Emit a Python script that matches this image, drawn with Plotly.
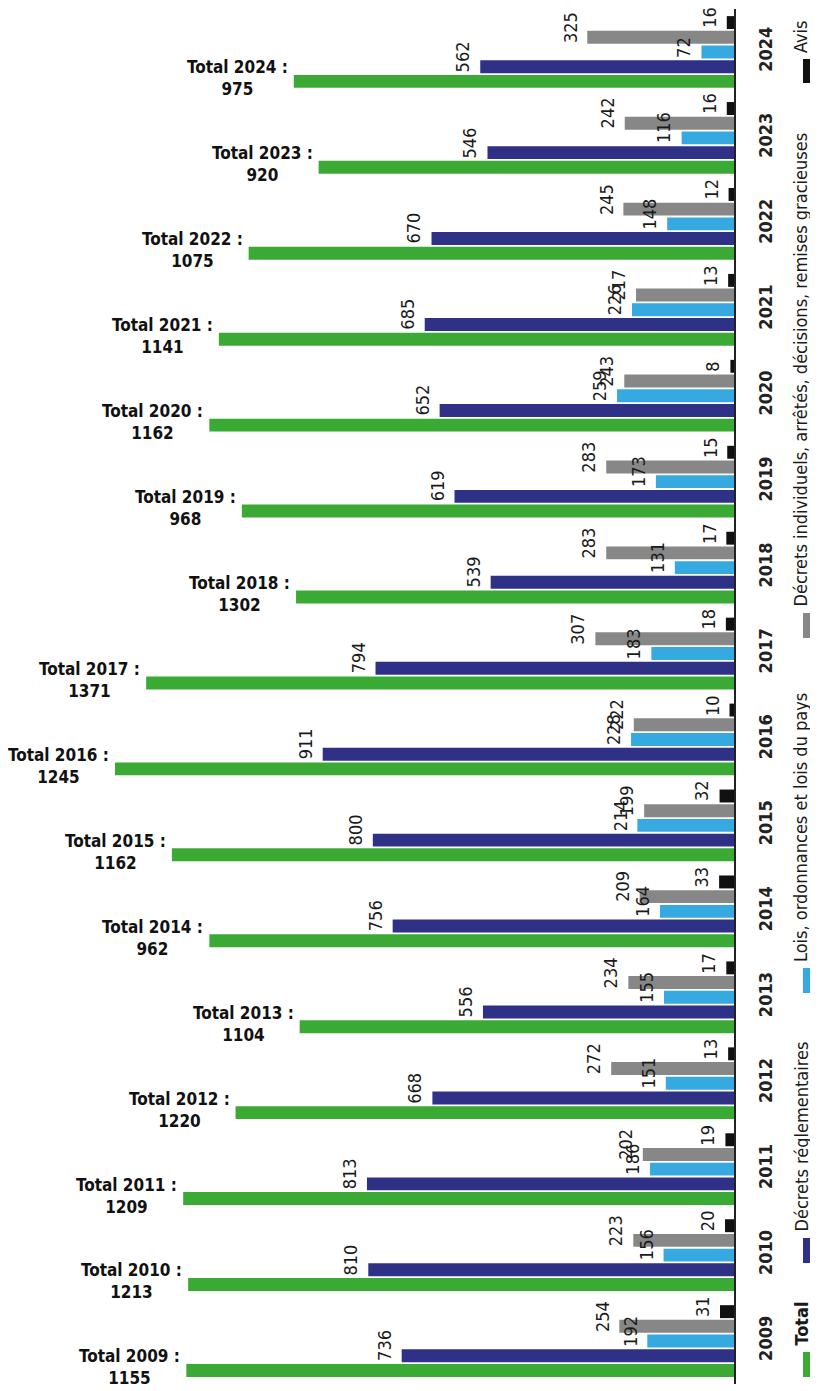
import plotly.graph_objects as go

years = [2009, 2010, 2011, 2012, 2013, 2014, 2015, 2016,
         2017, 2018, 2019, 2020, 2021, 2022, 2023, 2024]
decrets_regl = [736, 810, 813, 668, 556, 756, 800, 911, 794, 539, 619, 652, 685, 670, 546, 562]
lois = [192, 156, 186, 151, 155, 164, 214, 228, 183, 131, 173, 259, 226, 148, 116, 72]
decrets_indiv = [254, 223, 202, 272, 234, 209, 199, 222, 307, 283, 283, 243, 217, 245, 242, 325]
avis = [31, 20, 19, 13, 17, 33, 32, 10, 18, 17, 15, 8, 13, 12, 16, 16]
total_bars = [1213, 1209, 1220, 1104, 962, 1162, 1245, 1371, 1302, 970, 1090, 1162, 1141, 1075, 920, 975]
total_labels = [1155, 1213, 1209, 1220, 1104, 962, 1162, 1245, 1371, 1302, 968, 1162, 1141, 1075, 920, 975]

legend_names = ["Total", "Décrets réglementaires", "Lois, ordonnances et lois du pays",
                "Décrets individuels, arrêtés, décisions, remises gracieuses", "Avis"]

FONT = "DejaVu Sans Condensed, Liberation Sans Narrow, Arial Narrow, sans-serif"
GREEN, DBLUE, LBLUE, GRAY, BLACK = "#3aaa35", "#2e3185", "#36a9e1", "#878787", "#111111"

# the page body adds an 8px margin, so the figure is 8px smaller than the window
OFF = 8
W, H = 818 - OFF, 1391 - OFF
ML, MR, MT, MB = 0, 84, 1, 7
PW, PH = W - ML - MR, H - MT - MB
BARGAP, GROUPGAP = 0.145, 0.12
XMAX = 1608

series = [
    (legend_names[0], total_bars, GREEN),
    (legend_names[1], decrets_regl, DBLUE),
    (legend_names[2], lois, LBLUE),
    (legend_names[3], decrets_indiv, GRAY),
    (legend_names[4], avis, BLACK),
]

fig = go.Figure()
for name, vals, col in series:
    fig.add_trace(go.Bar(orientation="h", x=vals, y=years, name=name,
                         marker=dict(color=col, line=dict(width=0)),
                         showlegend=False))

n = len(series)
gw = 1 - BARGAP
slot = gw / n
ann = []
# rotated value labels for the four component series
for i, (name, vals, col) in enumerate(series):
    if i == 0:
        continue
    for yr, v in zip(years, vals):
        bottom = yr - gw / 2 + i * slot + slot * GROUPGAP / 2
        ann.append(dict(x=v, y=bottom, xref="x", yref="y", text=str(v),
                        textangle=-90, showarrow=False, xanchor="right",
                        yanchor="bottom", xshift=-5, yshift=-1,
                        font=dict(family=FONT, size=18, color="#1a1a1a")))
# total labels
for yr, v, lab in zip(years, total_bars, total_labels):
    center = yr - gw / 2 + 0.5 * slot
    ann.append(dict(x=v, y=center, xref="x", yref="y",
                    text=f"<b>Total {yr} :<br>{lab}</b>", align="center",
                    showarrow=False, xanchor="right", yanchor="middle",
                    xshift=-4, yshift=3,
                    font=dict(family=FONT, size=17, color="#111111")))


def px_x(p):
    return (p - OFF - ML) / PW


def px_y(p):
    return 1 - (p - OFF - MT) / PH


# manual rotated legend (page pixel positions)
legend_pos = [(1352, 1377), (1238, 1263), (968, 993), (613, 638), (59, 83)]
shapes = []
for (name, vals, col), (top, bot) in zip(series, legend_pos):
    shapes.append(dict(type="rect", xref="paper", yref="paper",
                       x0=px_x(803), x1=px_x(812), y0=px_y(bot), y1=px_y(top),
                       fillcolor=col, line=dict(width=0)))
    txt = f"<b>{name}</b>" if name == "Total" else name
    ann.append(dict(x=px_x(813), y=px_y(top - 4), xref="paper", yref="paper",
                    text=txt, textangle=-90, showarrow=False,
                    xanchor="right", yanchor="bottom",
                    font=dict(family=FONT, size=18, color="#1a1a1a")))

fig.update_layout(
    template="none",
    width=W, height=H,
    margin=dict(l=ML, r=MR, t=MT, b=MB, autoexpand=False),
    barmode="group", bargap=BARGAP, bargroupgap=GROUPGAP,
    paper_bgcolor="white", plot_bgcolor="white",
    font=dict(family=FONT),
    xaxis=dict(range=[XMAX, 0], showticklabels=False, showgrid=False,
               zeroline=False, showline=False, ticks="", automargin=False),
    yaxis=dict(side="right", range=[2008.5, 2024.5], tickmode="array",
               tickvals=years, ticktext=[f"<b>{y}</b>" for y in years],
               tickangle=-90, tickfont=dict(family=FONT, size=18, color="#222222"),
               showline=True, linecolor="#222222", linewidth=2,
               ticks="outside", ticklen=14, tickcolor="rgba(0,0,0,0)",
               showgrid=False, zeroline=False, automargin=False),
    annotations=ann,
    shapes=shapes,
)

fig.write_html("out.html")
